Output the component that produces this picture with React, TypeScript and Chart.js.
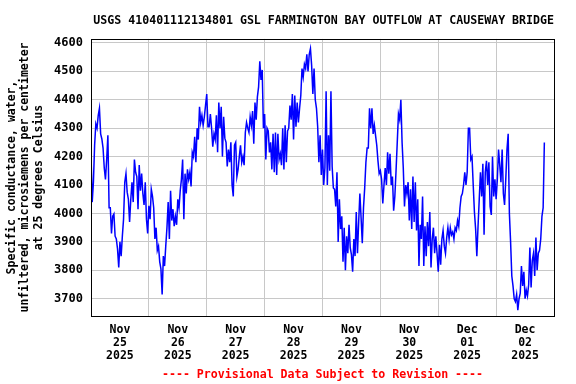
import React, { useEffect, useRef } from "react";
import { Chart, registerables } from "chart.js";

Chart.register(...registerables);

const chartTitle = "USGS 410401112134801 GSL FARMINGTON BAY OUTFLOW AT CAUSEWAY BRIDGE";
const footerText = "---- Provisional Data Subject to Revision ----";
const yAxisTitle = [
  "Specific conductance, water,",
  "unfiltered, microsiemens per centimeter",
  "at 25 degrees Celsius",
];

const dayMonths = ["Nov", "Nov", "Nov", "Nov", "Nov", "Nov", "Dec", "Dec"];
const dayNumbers = ["25", "26", "27", "28", "29", "30", "01", "02"];
const dayYears = ["2025", "2025", "2025", "2025", "2025", "2025", "2025", "2025"];

const yTickValues = [3700, 3800, 3900, 4000, 4100, 4200, 4300, 4400, 4500, 4600];
const yMin = 3639;
const yMax = 4614;

const hoursPerDay = 24;
const stepHours = 0.5; // readings every 30 minutes from Nov 25 00:00

// Specific conductance (uS/cm @ 25C), Nov 25 00:00 -> Dec 02 20:00
const conductance = [
  // Nov 25
  4210, 4040, 4110, 4240, 4315, 4300, 4345, 4370, 4280, 4262, 4230, 4160,
  4120, 4190, 4275, 4020, 4020, 3930, 3990, 3998, 3920, 3910, 3875, 3810,
  3900, 3850, 3920, 3980, 4110, 4140, 4075, 4050, 3970, 4050, 4110, 4040,
  4190, 4145, 4130, 4015, 4170, 4080, 4140, 4070, 4030, 4110, 3980, 3930,
  // Nov 26
  4027, 3980, 4085, 4060, 4020, 3910, 3950, 3870, 3885, 3830, 3805, 3715,
  3850, 3815, 3885, 3950, 4040, 3910, 4080, 3975, 4015, 3955, 3990, 3960,
  4050, 4020, 4080, 4120, 4190, 3980, 4140, 4070, 4155, 4120, 4145, 4095,
  4215, 4200, 4270, 4180, 4300, 4260, 4375, 4320, 4345, 4310, 4340, 4380,
  // Nov 27
  4420, 4305, 4305, 4350, 4300, 4235, 4280, 4260, 4345, 4215, 4390, 4300,
  4375, 4200, 4340, 4265, 4250, 4165, 4225, 4180, 4250, 4100, 4060, 4240,
  4250, 4130, 4155, 4200, 4240, 4180, 4200, 4170, 4285, 4320, 4300, 4285,
  4340, 4310, 4360, 4245, 4390, 4330, 4410, 4445, 4535, 4470, 4505, 4300,
  // Nov 28
  4350, 4190, 4300, 4290, 4215, 4250, 4155, 4280, 4145, 4285, 4135, 4280,
  4190, 4210, 4170, 4300, 4155, 4310, 4180, 4290, 4300, 4380, 4330, 4420,
  4260, 4415, 4305, 4390, 4320, 4370, 4415, 4510, 4480, 4525, 4510, 4560,
  4500, 4560, 4580, 4520, 4420, 4510, 4400, 4370, 4305, 4180, 4275, 4135,
  // Nov 29
  4225, 4100, 4160, 4430, 4100, 4275, 4150, 4430, 4165, 4090, 4085, 4025,
  4145, 3900, 4050, 3945, 3990, 3830, 3950, 3800, 3920, 3860, 3960, 3880,
  3855, 3795, 3910, 3850, 4005, 3860, 3970, 4070, 3985, 3895, 4020, 4090,
  4180, 4230, 4230, 4370, 4300, 4370, 4280, 4310, 4275, 4240, 4185, 4140,
  // Nov 30
  4150, 4120, 4035, 4100, 4160, 4100, 4215, 4140, 4210, 4100, 4130, 4010,
  4060, 4150, 4250, 4350, 4330, 4400, 4250, 4160, 4025, 4100, 4070, 4110,
  3975, 4085, 3945, 4130, 3970, 4110, 3940, 4050, 3815, 3960, 3910, 4060,
  3815, 3955, 3850, 3970, 3885, 4005, 3810, 3910, 3950, 3860, 3920, 3860,
  // Dec 01
  3795, 3890, 3820, 3910, 3940, 3885, 3860, 3915, 3950, 3910, 3950, 3925,
  3935, 3910, 3950, 3940, 3975, 3955, 4020, 4060, 4070, 4100, 4145, 4100,
  4145, 4300, 4300, 4190, 4200, 4100, 4005, 3945, 3850, 3955, 4050, 4145,
  4060, 4175, 3925, 4145, 4185, 4100, 4180, 4025, 3995, 4200, 4060, 4120,
  // Dec 02
  4050, 4120, 4225, 4170, 4110, 4225, 4070, 4030, 4120, 4225, 4280, 4000,
  3900, 3780, 3745, 3700, 3690, 3715, 3660, 3700, 3720, 3815, 3745, 3795,
  3700, 3730, 3710, 3750, 3880, 3740, 3835, 3860, 3780, 3915, 3800, 3860,
  3870, 3910, 3990, 4020, 4250,
];

const totalHours = dayNumbers.length * hoursPerDay;
const tickHours = Array.from({ length: totalHours / 12 + 1 }, (_, i) => i * 12);

const monoFamily = "'DejaVu Sans Mono', 'Liberation Mono', monospace";
const gridColor = "#c8c8c8";
const lineColor = "#0000ff";

const framePlugin = {
  id: "frame",
  afterDatasetsDraw(chart: any) {
    const { ctx, chartArea } = chart;
    const { left, top, right, bottom } = chartArea;
    ctx.save();
    ctx.strokeStyle = "#000000";
    ctx.lineWidth = 1;
    ctx.strokeRect(
      Math.round(left) + 0.5,
      Math.round(top) + 0.5,
      Math.round(right) - Math.round(left),
      Math.round(bottom) - Math.round(top)
    );
    ctx.restore();
  },
};

export default function App() {
  const canvasRef = useRef<HTMLCanvasElement | null>(null);

  useEffect(() => {
    const canvas = canvasRef.current;
    if (!canvas) return;
    const points = conductance.map((v, i) => ({ x: i * stepHours, y: v }));

    const chart = new Chart(canvas, {
      type: "line",
      data: {
        datasets: [
          {
            data: points,
            borderColor: lineColor,
            borderWidth: 1.5,
            pointRadius: 0,
            tension: 0,
            fill: false,
          },
        ],
      },
      options: {
        animation: false,
        responsive: false,
        layout: { padding: { left: 0, right: 22, top: 0, bottom: 0 } },
        plugins: {
          legend: { display: false },
          tooltip: { enabled: false },
          title: {
            display: true,
            text: chartTitle,
            align: "end",
            fullSize: false,
            color: "#000000",
            font: { family: monoFamily, size: 11.6, weight: "bold", lineHeight: 1.2 },
            padding: { top: 14, bottom: 11 },
          },
          subtitle: {
            display: true,
            position: "bottom",
            text: footerText,
            fullSize: false,
            color: "#ff0000",
            font: { family: monoFamily, size: 11.6, weight: "bold", lineHeight: 1.2 },
            padding: { top: 4, bottom: 2 },
          },
        },
        scales: {
          x: {
            type: "linear",
            min: 0,
            max: totalHours,
            afterBuildTicks: (scale: any) => {
              scale.ticks = tickHours.map((v) => ({ value: v }));
            },
            afterFit: (scale: any) => {
              scale.height = 48;
            },
            grid: {
              drawTicks: false,
              lineWidth: 1,
              color: (ctx: any) => {
                const v = ctx.tick ? ctx.tick.value : 0;
                return v % hoursPerDay === 0 && v > 0 && v < totalHours ? gridColor : "rgba(0,0,0,0)";
              },
            },
            border: { display: false },
            ticks: {
              autoSkip: false,
              maxRotation: 0,
              padding: 7.5,
              color: "#000000",
              font: { family: monoFamily, size: 11.5, weight: "bold", lineHeight: 1.12 },
              callback: (value: any) => {
                const v = Number(value);
                if (v % hoursPerDay !== 12) return "";
                const d = (v - 12) / hoursPerDay;
                return [dayMonths[d], dayNumbers[d], dayYears[d]];
              },
            },
          },
          y: {
            type: "linear",
            min: yMin,
            max: yMax,
            afterBuildTicks: (scale: any) => {
              scale.ticks = yTickValues.map((v) => ({ value: v }));
            },
            afterFit: (scale: any) => {
              scale.width = 91;
            },
            grid: { drawTicks: false, lineWidth: 1, color: gridColor },
            border: { display: false },
            ticks: {
              padding: 8,
              color: "#000000",
              font: { family: monoFamily, size: 12, weight: "bold" },
              callback: (value: any) => String(value),
            },
            title: {
              display: true,
              text: yAxisTitle,
              color: "#000000",
              font: { family: monoFamily, size: 11.5, weight: "bold", lineHeight: 1.2 },
              padding: { top: 4.8, bottom: 0 },
            },
          },
        },
      },
      plugins: [framePlugin],
    });

    return () => chart.destroy();
  }, []);

  return (
    <div style={{ position: "absolute", left: 0, top: 0, width: 576, height: 384, background: "#ffffff" }}>
      <canvas ref={canvasRef} width={576} height={384} style={{ display: "block" }} />
    </div>
  );
}
